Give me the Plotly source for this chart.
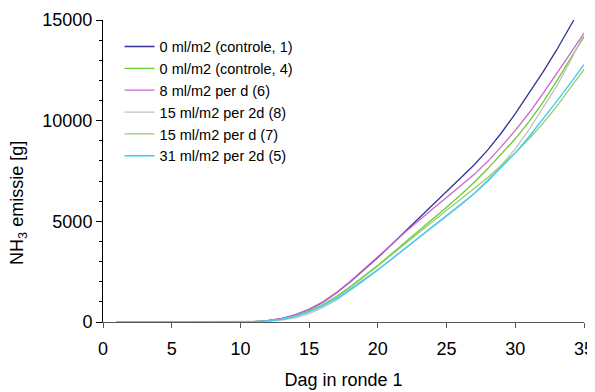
import plotly.graph_objects as go

days = list(range(1, 36))

# values per day (day 1..35), NH3 emission [g]
zeros = [0] * 10
ctrl1_days = days[:34] + [34.3]
ctrl1 = zeros + [20, 70, 170, 350, 620, 980, 1450, 2000, 2580, 3200, 3850, 4500, 5150, 5800,
                 6450, 7100, 7800, 8550, 9400, 10350, 11350, 12400, 13500, 14650, 15050]
ctrl4 = zeros + [15, 60, 150, 310, 560, 880, 1280, 1760, 2280, 2820, 3390, 3960, 4540, 5120,
                 5700, 6300, 6930, 7620, 8350, 9100, 9950, 10900, 11950, 13050, 14170]
d8_per_d = zeros + [20, 75, 180, 370, 640, 1000, 1470, 2020, 2620, 3230, 3850, 4470, 5060, 5630,
                    6180, 6730, 7320, 7980, 8720, 9520, 10380, 11330, 12300, 13330, 14350]
d15_per_2d = zeros + [5, 30, 90, 210, 420, 720, 1100, 1560, 2060, 2580, 3110, 3650, 4190, 4730,
                      5250, 5790, 6380, 7050, 7800, 8600, 9550, 10600, 11700, 12950, 14300]
d15_per_d = zeros + [15, 60, 140, 300, 540, 860, 1250, 1720, 2240, 2780, 3340, 3900, 4460, 5010,
                     5550, 6080, 6620, 7180, 7780, 8400, 9100, 9850, 10700, 11600, 12550]
d31_per_2d = zeros + [15, 55, 130, 280, 500, 800, 1170, 1620, 2100, 2600, 3130, 3670, 4210, 4750,
                      5270, 5800, 6370, 6990, 7700, 8400, 9200, 10050, 10950, 11850, 12780]

series = [
    ("0 ml/m2 (controle, 1)", ctrl1_days, ctrl1, "#333399"),
    ("0 ml/m2 (controle, 4)", days, ctrl4, "#66cc33"),
    ("8 ml/m2 per d (6)", days, d8_per_d, "#cc66cc"),
    ("15 ml/m2 per 2d (8)", days, d15_per_2d, "#c0c0c0"),
    ("15 ml/m2 per d (7)", days, d15_per_d, "#99cc66"),
    ("31 ml/m2 per 2d (5)", days, d31_per_2d, "#33ccff"),
]

x_ticks = [0, 5, 10, 15, 20, 25, 30, 35]
y_ticks = [0, 5000, 10000, 15000]

fig = go.Figure()
for name, xs, ys, col in series:
    fig.add_trace(go.Scatter(x=xs, y=ys, mode="lines", name=name,
                             line=dict(color=col, width=1.3)))

font_family = "Liberation Sans, Arial, sans-serif"
fig.update_layout(
    width=587, height=384,
    margin=dict(l=95, r=11, t=12, b=70),
    paper_bgcolor="white", plot_bgcolor="white",
    font=dict(family=font_family, size=18, color="black"),
    showlegend=True,
    legend=dict(x=0.0345, y=0.965, xanchor="left", yanchor="top",
                font=dict(size=14.5, family=font_family),
                bgcolor="rgba(0,0,0,0)", tracegroupgap=0, itemwidth=30),
    annotations=[dict(text="NH<sub>3</sub> emissie [g]", textangle=-90,
                      x=-0.177, y=0.394, xref="paper", yref="paper",
                      xanchor="center", yanchor="middle", showarrow=False,
                      font=dict(size=18, family=font_family))],
)
fig.update_xaxes(range=[0, 35], tickvals=x_ticks, ticktext=[str(v) for v in x_ticks],
                 showgrid=False, zeroline=False, showline=True, linecolor="#555555", linewidth=1,
                 ticks="outside", ticklen=5, tickcolor="#555555", automargin=False,
                 ticklabelstandoff=5,
                 title=dict(text="Dag in ronde 1", standoff=15, font=dict(size=18)),
                 tickfont=dict(size=18))
fig.update_yaxes(range=[0, 15000], tickvals=y_ticks, ticktext=[str(v) for v in y_ticks],
                 showgrid=False, zeroline=False, showline=True, linecolor="#000000", linewidth=1,
                 ticks="outside", ticklen=6, tickcolor="#000000", automargin=False,
                 minor=dict(dtick=1000, ticks="outside", ticklen=3, tickcolor="#000000", showgrid=False),
                 tickfont=dict(size=18))

fig.write_html("out.html")
